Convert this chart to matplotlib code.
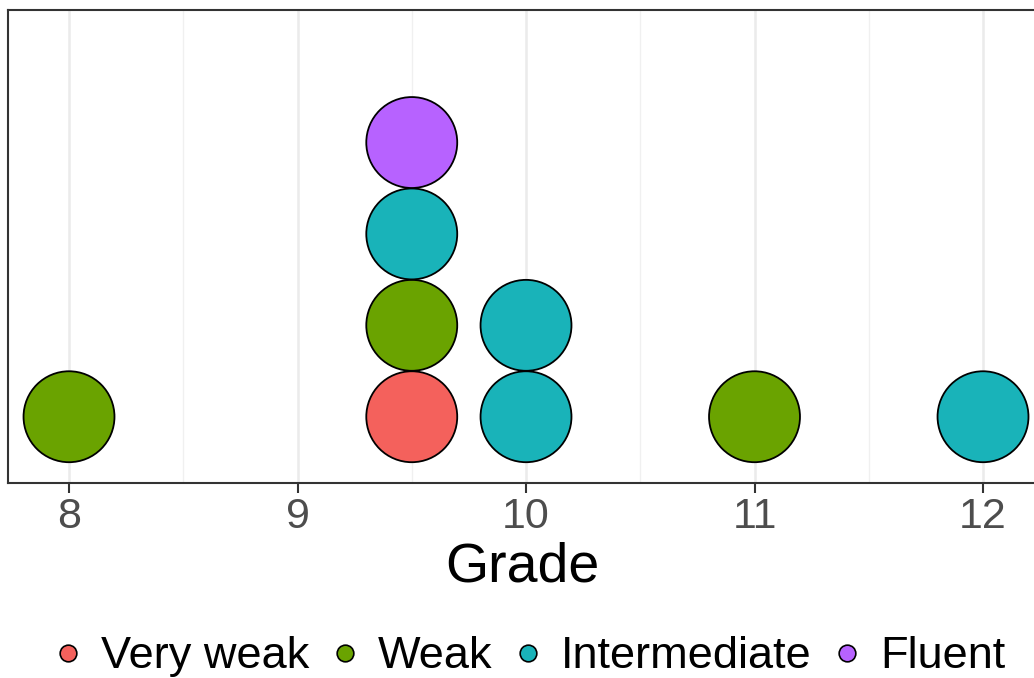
import matplotlib
matplotlib.use("Agg")
from matplotlib import pyplot as plt
from matplotlib.patches import Circle
from matplotlib.lines import Line2D

# data: one dot per student, stacked within each grade bin
grades = [8, 9.5, 9.5, 9.5, 9.5, 10, 10, 11, 12]
levels = ["Weak", "Very weak", "Weak", "Intermediate", "Fluent",
          "Intermediate", "Intermediate", "Weak", "Intermediate"]
level_order = ["Very weak", "Weak", "Intermediate", "Fluent"]
level_colors = ["#F4615C", "#6AA300", "#19B3B9", "#B762FF"]
x_ticks = [8, 9, 10, 11, 12]
binwidth = 0.4

W, H = 1034, 678
fig = plt.figure(figsize=(W / 100, H / 100), dpi=100)
plt.rcParams['font.family'] = ['Liberation Sans', 'DejaVu Sans']

# panel in pixels
px_left, px_right, px_top, px_bottom = 8, 1036, 10, 483
ax = fig.add_axes([px_left / W, 1 - px_bottom / H,
                   (px_right - px_left) / W, (px_bottom - px_top) / H])

xmin = 7.733
scale = 228.5  # pixels per grade unit
xmax = xmin + (px_right - px_left) / scale
ymin = -0.09
ymax = ymin + (px_bottom - px_top) / scale
ax.set_xlim(xmin, xmax)
ax.set_ylim(ymin, ymax)

color_of = dict(zip(level_order, level_colors))
counts = {}
for g, lev in zip(grades, levels):
    k = counts.get(g, 0)
    counts[g] = k + 1
    ax.add_patch(Circle((g, (k + 0.5) * binwidth), binwidth / 2 * 0.995,
                        facecolor=color_of[lev], edgecolor="black",
                        linewidth=1.3, zorder=3))

# grid like theme_bw
for t in x_ticks:
    ax.axvline(t, color="#EBEBEB", linewidth=1.8, zorder=0)
for t in [8.5, 9.5, 10.5, 11.5]:
    ax.axvline(t, color="#F0F0F0", linewidth=1.0, zorder=0)

ax.set_xticks(x_ticks)
ax.set_xticklabels([str(t) for t in x_ticks])
ax.set_yticks([])
ax.tick_params(axis="x", length=7, width=1.5, color="#333333",
               labelsize=31, labelcolor="#4D4D4D", pad=3)
for side in ["left", "top", "bottom"]:
    ax.spines[side].set_color("#333333")
    ax.spines[side].set_linewidth(1.5)
ax.spines["right"].set_visible(False)

ax.set_xlabel("Grade", fontsize=40, labelpad=3.5)

handles = [Line2D([], [], marker="o", linestyle="none", markersize=12,
                  markerfacecolor=c, markeredgecolor="black",
                  markeredgewidth=1.2) for c in level_colors]
fig.legend(handles, level_order, loc="center", ncol=4,
           bbox_to_anchor=(0.508, 0.031), frameon=False, fontsize=32.5,
           handletextpad=0.22, columnspacing=0.3, handlelength=1.0)

fig.savefig("out.png", dpi=100)
